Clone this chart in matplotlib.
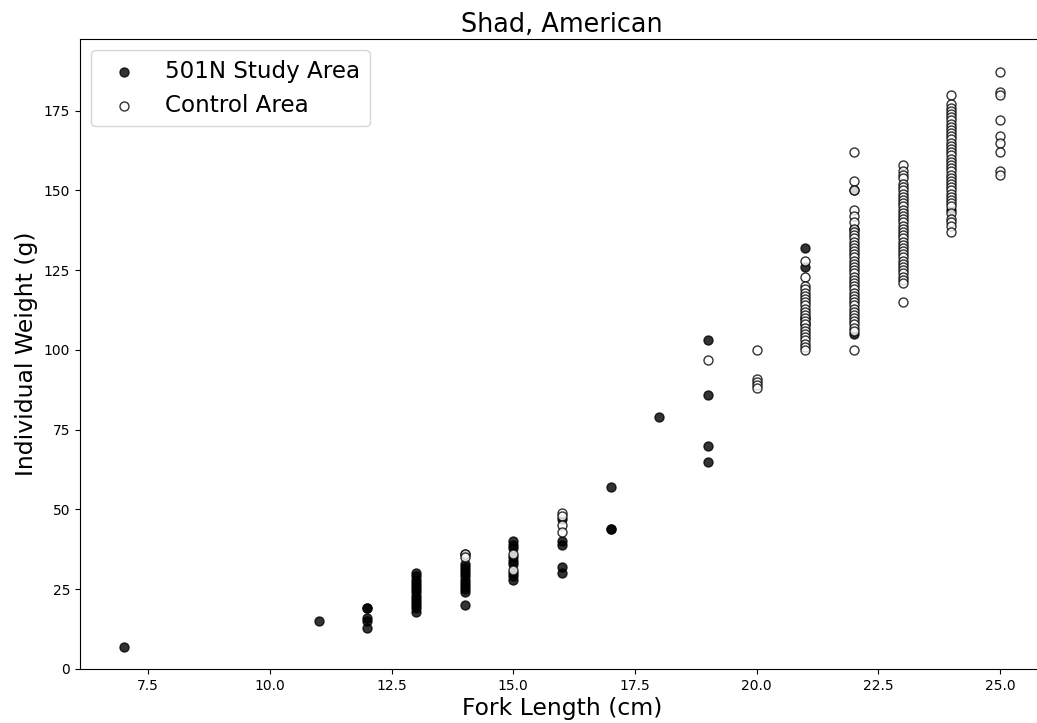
import matplotlib
matplotlib.use('Agg')
import matplotlib.pyplot as plt

# Fork length (cm) and weight (g)
study_x = [7, 11,
           12, 12, 12, 12, 12,
           13, 13, 13, 13, 13, 13, 13, 13, 13, 13, 13, 13, 13,
           14, 14, 14, 14, 14, 14, 14, 14, 14, 14, 14, 14,
           15, 15, 15, 15, 15, 15, 15, 15, 15,
           16, 16, 16, 16, 16,
           17, 17, 17, 18,
           19, 19, 19, 19,
           21, 21, 21, 21,
           22, 22, 22, 24]
study_y = [7, 15,
           19, 19, 16, 15, 13,
           30, 29, 28, 27, 26, 25, 24, 23, 22, 21, 20, 19, 18,
           36, 33, 32, 31, 30, 29, 28, 27, 26, 25, 24, 20,
           40, 39, 38, 35, 34, 33, 30, 29, 28,
           47, 40, 39, 32, 30,
           57, 44, 44, 79,
           103, 86, 70, 65,
           132, 126, 110, 108,
           150, 138, 105, 144]

ctrl_14 = [36, 35]
ctrl_15 = [36, 31]
ctrl_16 = [49, 48, 45, 43]
ctrl_19 = [97]
ctrl_20 = [100, 91, 90, 89, 88]
ctrl_21 = [128, 123, 120, 119, 118, 117, 116, 115, 114, 113, 112, 111,
           110, 109, 108, 107, 106, 105, 104, 103, 102, 101, 100]
ctrl_22 = [162, 153, 150, 144, 142, 140, 138, 137, 136, 135, 134, 133,
           132, 131, 130, 129, 128, 127, 126, 125, 124, 123, 122, 121,
           120, 119, 118, 117, 116, 115, 114, 113, 112, 111, 110, 109,
           108, 107, 106, 100]
ctrl_23 = [158, 156, 155, 154, 152, 151, 150, 149, 148, 147, 146, 145,
           144, 143, 142, 141, 140, 139, 138, 137, 136, 135, 134, 133,
           132, 131, 130, 129, 128, 127, 126, 125, 124, 123, 122, 121, 115]
ctrl_24 = [180, 177, 176, 175, 174, 173, 172, 171, 170, 169, 168, 167,
           166, 165, 164, 163, 162, 161, 160, 159, 158, 157, 156, 155,
           154, 153, 152, 151, 150, 149, 148, 147, 146, 145, 143, 141,
           140, 139, 137]
ctrl_25 = [187, 181, 180, 172, 167, 165, 162, 156, 155]

ctrl_cols = {14: ctrl_14, 15: ctrl_15, 16: ctrl_16, 19: ctrl_19, 20: ctrl_20,
             21: ctrl_21, 22: ctrl_22, 23: ctrl_23, 24: ctrl_24, 25: ctrl_25}
ctrl_x = []
ctrl_y = []
for length, weights in ctrl_cols.items():
    ctrl_x += [length] * len(weights)
    ctrl_y += weights

fig = plt.figure(figsize=(10.37, 7.23), dpi=100)
ax = fig.add_axes([0.0771, 0.0747, 0.9296, 0.8714])

ax.scatter(study_x, study_y, s=42, c='black', alpha=0.8, label='501N Study Area')
ax.scatter(ctrl_x, ctrl_y, s=42, facecolors='white', edgecolors='black',
           linewidths=1, alpha=0.8, label='Control Area')

ax.set_xlim(6.1, 25.9)
ax.set_ylim(0, 197.5)
ax.set_xticks([7.5, 10.0, 12.5, 15.0, 17.5, 20.0, 22.5, 25.0])
ax.set_yticks([0, 25, 50, 75, 100, 125, 150, 175])
ax.tick_params(labelsize=10)

ax.set_title('Shad, American', fontsize=18.4, pad=5)
ax.set_xlabel('Fork Length (cm)', fontsize=16.9, labelpad=3)
ax.set_ylabel('Individual Weight (g)', fontsize=16.9)
ax.legend(loc='upper left', fontsize=16.6)

fig.savefig('out.png', dpi=100)
